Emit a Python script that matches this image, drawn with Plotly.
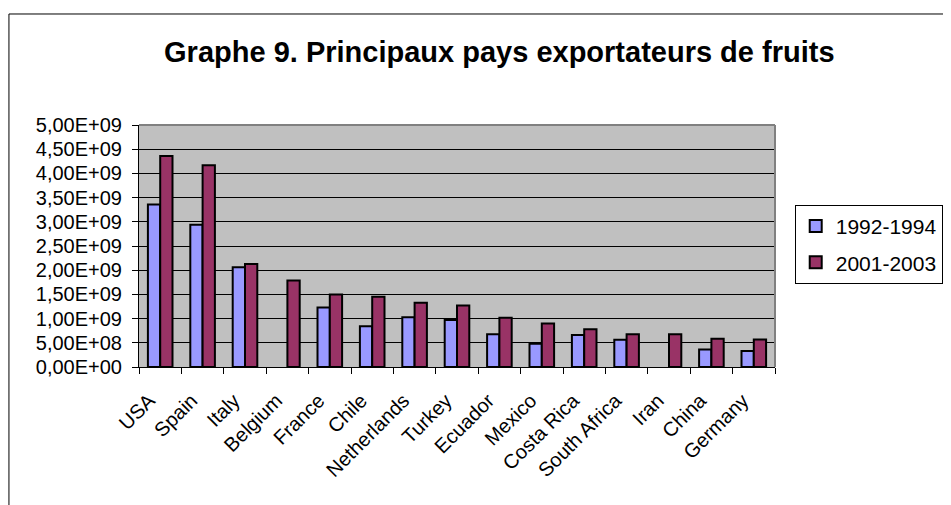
import plotly.graph_objects as go

# Data (None = no bar drawn)
countries = ["USA", "Spain", "Italy", "Belgium", "France", "Chile", "Netherlands", "Turkey",
             "Ecuador", "Mexico", "Costa Rica", "South Africa", "Iran", "China", "Germany"]
exports_1992_1994 = [3.36e9, 2.94e9, 2.06e9, None, 1.23e9, 0.84e9, 1.03e9, 0.97e9,
                     0.675e9, 0.48e9, 0.66e9, 0.565e9, None, 0.36e9, 0.33e9]
exports_2001_2003 = [4.36e9, 4.17e9, 2.13e9, 1.785e9, 1.50e9, 1.45e9, 1.33e9, 1.27e9,
                     1.02e9, 0.90e9, 0.78e9, 0.675e9, 0.675e9, 0.585e9, 0.57e9]
ytick_values = [i * 5e8 for i in range(11)]
ytick_labels = ["0,00E+00", "5,00E+08", "1,00E+09", "1,50E+09", "2,00E+09", "2,50E+09",
                "3,00E+09", "3,50E+09", "4,00E+09", "4,50E+09", "5,00E+09"]

FONT = "Liberation Sans, Arial, sans-serif"

fig = go.Figure()
fig.add_trace(go.Bar(x=countries, y=exports_1992_1994, name="1992-1994", legendgroup="a",
                     marker=dict(color="#9999FF", line=dict(color="black", width=2))))
fig.add_trace(go.Bar(x=countries, y=exports_2001_2003, name="2001-2003", legendgroup="b",
                     marker=dict(color="#993366", line=dict(color="black", width=2))))

# page body has an 8px margin, so the figure is 8px smaller and margins shifted
fig.update_layout(
    width=943, height=497,
    margin=dict(l=131, r=176, t=117, b=138, autoexpand=False),
    paper_bgcolor="white", plot_bgcolor="#C0C0C0",
    bargap=0.42, bargroupgap=0,
    title=dict(text="<b>Graphe 9. Principaux pays exportateurs de fruits</b>",
               x=0.521, xanchor="center", y=0.912, yanchor="middle",
               font=dict(family=FONT, size=29, color="black")),
    legend=dict(x=1.031, xanchor="left", y=0.67, yanchor="top",
                bordercolor="black", borderwidth=1, bgcolor="white",
                font=dict(family=FONT, size=21, color="black"),
                traceorder="grouped", tracegroupgap=6, itemwidth=30),
    font=dict(family=FONT, color="black"),
)

fig.update_xaxes(tickangle=-45, tickson="boundaries", ticks="outside", ticklen=6,
                 tickcolor="black", showline=True, linecolor="black", linewidth=1,
                 showgrid=False, ticklabelstandoff=13, ticklabelshift=-11,
                 tickfont=dict(family=FONT, size=20, color="black"))
fig.update_yaxes(range=[0, 5e9], tickvals=ytick_values, ticktext=ytick_labels,
                 ticks="outside", ticklen=6, tickcolor="black",
                 showline=True, linecolor="black", linewidth=1, ticklabelstandoff=6,
                 showgrid=True, gridcolor="black", gridwidth=1, zeroline=False,
                 tickfont=dict(family=FONT, size=20, color="black"))

# grey frame on top and right of the plot area
fig.add_shape(type="line", xref="paper", yref="paper", x0=0, x1=1, y0=1, y1=1,
              line=dict(color="#808080", width=2), layer="above")
fig.add_shape(type="line", xref="paper", yref="paper", x0=1, x1=1, y0=0, y1=1,
              line=dict(color="#808080", width=2), layer="above")
# outer chart border
fig.add_shape(type="rect", xref="paper", yref="paper", x0=-0.2045, x1=1.4, y0=-0.7, y1=1.4587,
              line=dict(color="black", width=1), layer="below")

fig.write_html("out.html")
